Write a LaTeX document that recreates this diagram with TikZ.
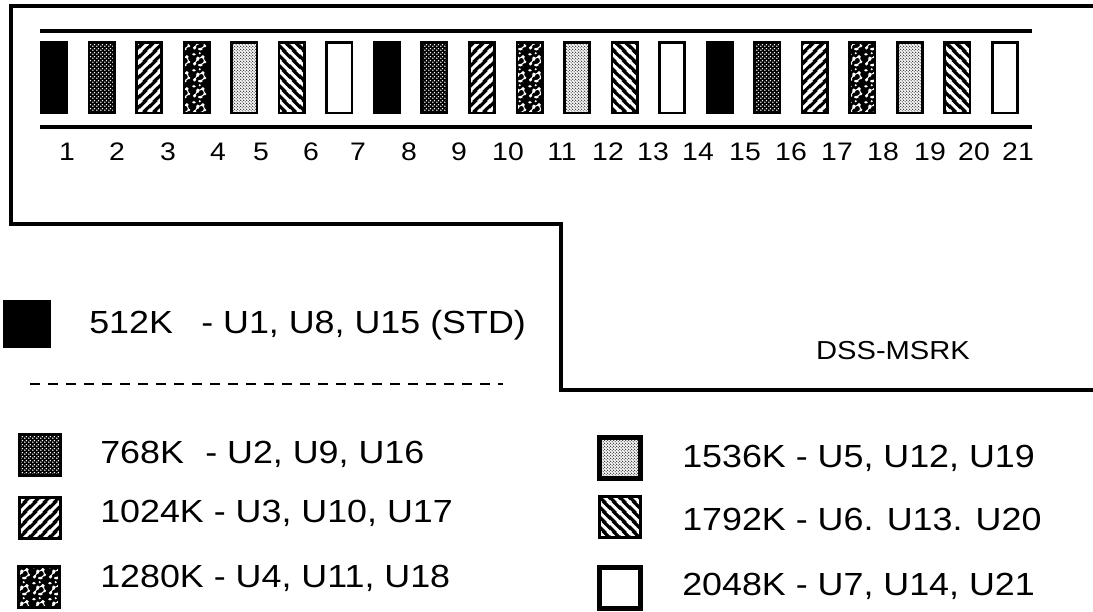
\documentclass[tikz,border=0pt]{standalone}
\usepackage{fontspec}
\setmainfont{Liberation Sans}[FakeStretch=1.12]
\usetikzlibrary{positioning, patterns.meta}

% fill patterns of the memory sizes
\tikzdeclarepattern{
  name=dotsWide, type=uncolored,
  bounding box={(0pt,0pt) and (3pt,3pt)},
  tile size={(3pt,3pt)},
  code={
    \fill (0.75pt,0.75pt) circle (0.7pt);
    \fill (2.25pt,2.25pt) circle (0.7pt);
  }
}
\tikzdeclarepattern{
  name=dotsFine, type=uncolored,
  bounding box={(0pt,0pt) and (2.2pt,2.2pt)},
  tile size={(2.2pt,2.2pt)},
  code={
    \fill (0.55pt,0.55pt) circle (0.42pt);
    \fill (1.65pt,1.65pt) circle (0.42pt);
  }
}
\tikzdeclarepattern{
  name=bandsNE, type=uncolored,
  bounding box={(0pt,0pt) and (7.5pt,7.5pt)},
  tile size={(7.5pt,7.5pt)},
  code={
    \draw[line width=2.5pt] (-7.5pt,0pt) -- (7.5pt,15pt)
      (-1pt,-1pt) -- (8.5pt,8.5pt) (0pt,-7.5pt) -- (15pt,7.5pt);
  }
}
\tikzdeclarepattern{
  name=bandsNW, type=uncolored,
  bounding box={(0pt,0pt) and (7.5pt,7.5pt)},
  tile size={(7.5pt,7.5pt)},
  code={
    \draw[line width=2.5pt] (-7.5pt,7.5pt) -- (7.5pt,-7.5pt)
      (-1pt,8.5pt) -- (8.5pt,-1pt) (0pt,15pt) -- (15pt,0pt);
  }
}
\tikzdeclarepattern{
  name=mottle, type=uncolored,
  bounding box={(0pt,0pt) and (12pt,12pt)},
  tile size={(12pt,12pt)},
  code={
    \fill (2pt,2.5pt) circle (1.4pt);
    \fill (6.5pt,1.5pt) ellipse (1.8pt and 1pt);
    \fill (10pt,4pt) circle (1.2pt);
    \fill (4.5pt,6.5pt) ellipse (1.2pt and 1.7pt);
    \fill (8.5pt,8pt) circle (1.5pt);
    \fill (1.5pt,10pt) ellipse (1.5pt and 1pt);
    \fill (6pt,10.8pt) circle (0.9pt);
    \draw[line width=0.8pt] (2pt,2.5pt) -- (4.5pt,6.5pt) -- (8.5pt,8pt) -- (10pt,4pt) -- (6.5pt,1.5pt);
  }
}

\tikzset{
  mem512/.style={fill=black},
  mem768/.style={preaction={fill=black}, pattern=dotsWide, pattern color=white},
  mem1024/.style={preaction={fill=black}, pattern=bandsNE, pattern color=white},
  mem1280/.style={preaction={fill=black}, pattern=mottle, pattern color=white},
  mem1536/.style={pattern=dotsFine, pattern color=black},
  mem1792/.style={preaction={fill=black}, pattern=bandsNW, pattern color=white},
  mem2048/.style={fill=white},
}

\begin{document}
\begin{tikzpicture}[
  x=0.75pt, y=-0.75pt,
  board/.style={line width=3.2pt},
  bar/.style={line width=2.6pt},
  chip/.style={draw, line width=2pt, minimum width=19pt, minimum height=53pt, inner sep=0pt},
  swatch/.style={draw, line width=2.6pt, minimum size=31pt, inner sep=0pt},
  num/.style={font=\fontsize{19}{22}\selectfont, inner sep=0pt},
  lbl/.style={font=\fontsize{24}{28}\selectfont, inner sep=0pt},
  tag/.style={font=\fontsize{19.5}{23}\selectfont, inner sep=0pt},
  sep/.style={line width=2pt, dash pattern=on 7.5pt off 6pt},
]
  \useasboundingbox (0,0) rectangle (1093,611);

  % board outline
  \draw[board] (1093,6) -| (11,224) -| (561,390) -- (1093,390);

  % sockets
  \draw[bar] (40,31) -- (1032,31);
  \draw[bar] (40,127) -- (1032,127);
  \foreach \grp in {0,1,2}
    \foreach \sty [count=\j from 0] in {mem512,mem768,mem1024,mem1280,mem1536,mem1792,mem2048} {
      \pgfmathtruncatemacro\n{7*\grp+\j+1}
      \pgfmathsetmacro\cx{54+(\n-1)*47.55}
      \node[chip, \sty] (u\n) at (\cx,77.5) {};
    }
  \foreach \n/\nx in {1/67, 2/117, 3/168, 4/218, 5/261, 6/311, 7/358, 8/409, 9/459, 10/508,
                      11/562, 12/608, 13/653, 14/698, 15/745, 16/791, 17/837, 18/883,
                      19/930, 20/974, 21/1018}
    \node[num, anchor=base] (n\n) at (\nx,160) {\n};

  \node[tag] (dss) at (893,351) {DSS-MSRK};

  % legend
  \node[swatch, mem512, minimum size=33pt] (s512) at (27,324) {};
  \node[lbl, anchor=base west] (k512) at (89,333) {512K};
  \node[lbl, anchor=base west] (p512) at (201,333) {- U1, U8, U15 (STD)};
  \draw[sep] (30,384) -- (503,384);

  \node[swatch, mem768] (s768) at (40,455) {};
  \node[lbl, anchor=base west] (k768) at (100,463) {768K};
  \node[lbl, anchor=base west] (p768) at (205,463) {- U2, U9, U16};
  \node[swatch, mem1024] (s1024) at (40,518) {};
  \node[lbl, anchor=base west] (k1024) at (100,522) {1024K - U3, U10, U17};
  \node[swatch, mem1280] (s1280) at (39,587) {};
  \node[lbl, anchor=base west] (k1280) at (100,587) {1280K - U4, U11, U18};

  \node[swatch, mem1536, line width=3.5pt] (s1536) at (620,458) {};
  \node[lbl, anchor=base west] (k1536) at (682,467) {1536K - U5, U12, U19};
  \node[swatch, mem1792] (s1792) at (620,517) {};
  \node[lbl, anchor=base west] (k1792) at (682,530) {1792K - U6. U13. U20};
  \node[swatch, mem2048, line width=3.5pt] (s2048) at (620,588) {};
  \node[lbl, anchor=base west] (k2048) at (682,595) {2048K - U7, U14, U21};
\end{tikzpicture}
\end{document}
